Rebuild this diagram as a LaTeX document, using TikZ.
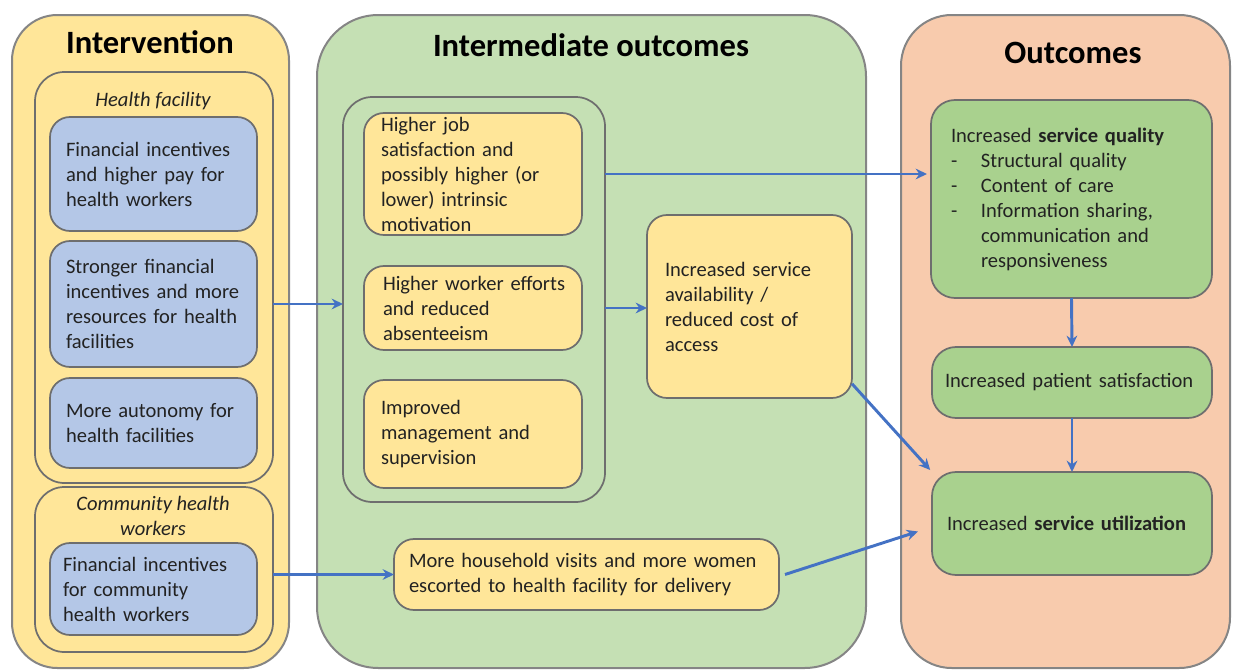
\documentclass[tikz,border=0pt]{standalone}
\usepackage{fontspec}
\setmainfont{Carlito}
\usetikzlibrary{arrows.meta,calc}

\definecolor{fillYel}{HTML}{FFE699}
\definecolor{fillBlue}{HTML}{B4C7E7}
\definecolor{fillGrn}{HTML}{C5E0B4}
\definecolor{fillOra}{HTML}{F8CBAD}
\definecolor{fillGbox}{HTML}{A9D18E}
\definecolor{flowBlue}{HTML}{4472C4}
\definecolor{edgeGrey}{HTML}{6E6E6E}
\definecolor{panelEdge}{HTML}{858585}
\definecolor{ink}{HTML}{222222}

% dimensions are given in pixels: 1px = 0.75pt
\newcommand\bul{\makebox[22.5pt][l]{-}}
\newcommand\ind{\hspace*{22.5pt}}

\tikzset{
  every node/.style={font=\fontsize{15.4}{18.75}\selectfont, text=ink, outer sep=0pt, inner ysep=0pt},
  % box={x1}{y1}{x2}{y2}{left margin}
  box/.code n args={5}{%
    \pgfmathsetlengthmacro\bxw{(#3-#1)*0.75pt}%
    \pgfmathsetlengthmacro\bxh{(#4-#2)*0.75pt}%
    \pgfmathsetlengthmacro\bxt{(#3-#1-2*#5)*0.75pt}%
    \pgfmathsetlengthmacro\bxs{#5*0.75pt}%
    \pgfmathsetmacro\bxcx{(#1+#3)/2}%
    \pgfmathsetmacro\bxcy{(#2+#4)/2}%
    \edef\bxnext{\noexpand\tikzset{rectangle, align=left,
      minimum width=\bxw, minimum height=\bxh, text width=\bxt,
      inner xsep=\bxs, at={(\bxcx,\bxcy)}}}%
    \bxnext
  },
  panel/.style={draw=panelEdge, line width=1.5pt},
  frame/.style={draw=edgeGrey, line width=1.3pt, rounded corners=22pt},
  bluebox/.style={draw=edgeGrey, line width=1.3pt, fill=fillBlue, rounded corners=15pt},
  yelbox/.style={draw=edgeGrey, line width=1.3pt, fill=fillYel, rounded corners=15pt},
  grnbox/.style={draw=edgeGrey, line width=1.3pt, fill=fillGbox, rounded corners=18pt},
  title/.style={font=\fontsize{24.4}{29}\selectfont\bfseries, text=black},
  subtitle/.style={font=\fontsize{15.4}{18.75}\selectfont\itshape, align=center},
  flow/.style={draw=flowBlue, line width=2.2pt, -{Stealth[length=8.5pt,width=8pt]}},
}

\begin{document}
\begin{tikzpicture}[x=0.75pt,y=-0.75pt]
\useasboundingbox (0,0) rectangle (1233,671);

% three columns
\node[panel, fill=fillYel, rounded corners=34pt, box={12}{15}{289}{668}{0}] (ip) {};
\node[panel, fill=fillGrn, rounded corners=46pt, box={317}{15}{866}{668}{0}] (mp) {};
\node[panel, fill=fillOra, rounded corners=38pt, box={901}{15}{1230}{668}{0}] (op) {};

\node[title] (ipt) at (150,42) {Intervention};
\node[title] (mpt) at (591,45) {Intermediate outcomes};
\node[title] (opt) at (1073,53) {Outcomes};

% intervention column
\node[frame, box={35}{72}{273}{483}{0}] (hf) {};
\node[subtitle, anchor=base] (hft) at (153,106) {Health facility};
\node[frame, box={35}{487}{273}{652}{0}] (chw) {};
\node[subtitle] (chwt) at (153,516) {Community health\\workers};

\node[bluebox, box={50}{117}{257}{231}{16}] (b1) {Financial incentives\\and higher pay for\\health workers};
\node[bluebox, box={50}{241}{257}{367}{16}] (b2) {Stronger financial\\incentives and more\\resources for health\\facilities};
\node[bluebox, box={50}{378}{257}{468}{16}] (b3) {More autonomy for\\health facilities};
\node[bluebox, box={50}{543}{257}{635}{13}] (b4) {Financial incentives\\for community\\health workers};

% intermediate outcomes column
\node[frame, box={343}{97}{605}{502}{0}] (inn) {};
\node[yelbox, box={364}{113}{582}{235}{17}] (A) {Higher job\\satisfaction and\\possibly higher (or\\lower) intrinsic\\motivation};
\node[yelbox, box={364}{266}{582}{350}{19}] (B) {\mbox{Higher worker efforts}\\and reduced\\absenteeism};
\node[yelbox, box={364}{380}{582}{488}{17}] (C) {Improved\\management and\\supervision};
\node[yelbox, box={647}{215}{852}{398}{18}] (D) {Increased service\\availability /\\reduced cost of\\access};
\node[yelbox, box={394}{539}{779}{610}{15}] (E) {More household visits and more women\\escorted to health facility for delivery};

% outcomes column
\node[grnbox, box={931}{100}{1212}{298}{20}] (q) {Increased \textbf{service quality}\\
  \bul Structural quality\\
  \bul Content of care\\
  \bul Information sharing,\\
  \ind communication and\\
  \ind responsiveness};
\node[grnbox, box={932}{347}{1212}{418}{13}] (s) {Increased patient satisfaction};
\node[grnbox, box={932}{472}{1212}{575}{15}] (u) {Increased \textbf{service utilization}};

% connectors
\draw[flow] (b2 -| hf.east) -- (b2 -| inn.west);
\draw[flow] (E -| chw.east) -- (E.west);
\draw[flow, shorten >=3pt] (A -| inn.east) -- (A -| q.west);
\draw[flow] (B -| inn.east) -- (B -| D.west);
\draw[flow, shorten >=2pt] (D.-37) -- (u.north west);
\draw[flow] ($(E.east)+(6,0)$) -- ($(u.west)+(-14,8)$);
\draw[flow] (q.south) -- (s.north);
\draw[flow] (s.south) -- (u.north);
\end{tikzpicture}
\end{document}
